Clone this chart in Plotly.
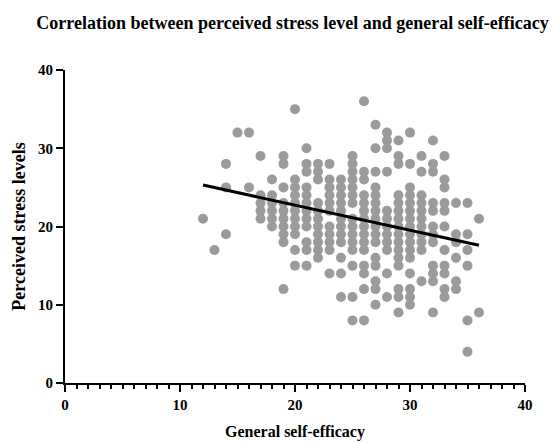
import plotly.graph_objects as go

# General self-efficacy (x) -> perceived stress values (y) per column
efficacy_cols = {
    12: [21],
    13: [17],
    14: [28, 25, 19],
    15: [32],
    16: [32, 25],
    17: [29, 24, 23, 22, 21],
    18: [26, 24, 23, 22, 21, 20],
    19: [29, 28, 25, 23, 22, 21, 20, 19, 18, 12],
    20: [35, 26, 25, 24, 23, 22, 21, 20, 19, 17, 15],
    21: [30, 28, 27, 25, 24, 23, 22, 21, 20, 18, 17, 15],
    22: [28, 27, 26, 23, 22, 21, 20, 19, 18, 17, 16],
    23: [28, 26, 25, 24, 23, 22, 20, 19, 18, 17, 14],
    24: [26, 25, 24, 23, 22, 21, 20, 19, 18, 16, 14, 11],
    25: [29, 28, 27, 26, 25, 24, 23, 21, 20, 19, 18, 17, 15, 11, 8],
    26: [36, 27, 26, 24, 23, 22, 21, 20, 19, 18, 17, 15, 14, 12, 8],
    27: [33, 30, 27, 25, 24, 23, 22, 21, 20, 19, 18, 16, 15, 13, 12, 10],
    28: [32, 31, 30, 27, 22, 21, 20, 19, 18, 17, 14, 11],
    29: [31, 29, 28, 24, 23, 22, 21, 20, 19, 18, 17, 16, 15, 12, 11, 9],
    30: [32, 28, 25, 24, 23, 22, 21, 20, 19, 18, 17, 16, 14, 12, 11, 10],
    31: [29, 27, 24, 23, 22, 21, 20, 19, 18, 17, 13],
    32: [31, 28, 27, 23, 22, 20, 19, 18, 15, 14, 13, 9],
    33: [29, 26, 25, 23, 22, 20, 17, 15, 14, 12, 11],
    34: [23, 19, 18, 16, 13, 12],
    35: [23, 19, 17, 15, 8, 4],
    36: [21, 9],
}

self_efficacy = [x for x, ys in efficacy_cols.items() for _ in ys]
stress = [y for ys in efficacy_cols.values() for y in ys]

# regression line endpoints
trend_x = [12, 36]
trend_y = [25.3, 17.6]

tick_vals = [0, 10, 20, 30, 40]

font_family = "Liberation Serif, Times New Roman, serif"

fig = go.Figure()
fig.add_trace(go.Scatter(
    x=self_efficacy, y=stress, mode="markers",
    marker=dict(color="#9b9b9b", size=10, line=dict(width=0)),
    showlegend=False, hoverinfo="skip", cliponaxis=False,
))
fig.add_trace(go.Scatter(
    x=trend_x, y=trend_y, mode="lines",
    line=dict(color="black", width=3),
    showlegend=False, hoverinfo="skip",
))

axis_common = dict(
    range=[0, 40], showgrid=False, zeroline=False, automargin=False,
    showline=True, linecolor="black", linewidth=2,
    ticks="outside", tickcolor="black", tickwidth=2, ticklen=7,
    tickvals=tick_vals,
    tickfont=dict(family=font_family, size=15, color="black", weight="bold"),
)

fig.update_layout(
    width=553, height=444,
    margin=dict(l=65, r=28, t=70, b=61, autoexpand=False),
    paper_bgcolor="white", plot_bgcolor="white",
    title=dict(
        text="Correlation between perceived stress level and general self-efficacy",
        x=0.529, xanchor="center", y=0.95, yanchor="middle",
        font=dict(family=font_family, size=18, color="black", weight="bold"),
    ),
    xaxis=dict(
        **axis_common,
        minor=dict(dtick=1, ticks="outside", ticklen=4, tickwidth=2, tickcolor="black"),
        title=dict(text="General self-efficacy", standoff=14,
                   font=dict(family=font_family, size=16, color="black", weight="bold")),
    ),
    yaxis=dict(
        **axis_common,
        title=dict(text="Perceived stress levels", standoff=8,
                   font=dict(family=font_family, size=18, color="black", weight="bold")),
    ),
)

fig.write_html("out.html", config={"displayModeBar": False},
               post_script="document.body.style.margin='0';")
